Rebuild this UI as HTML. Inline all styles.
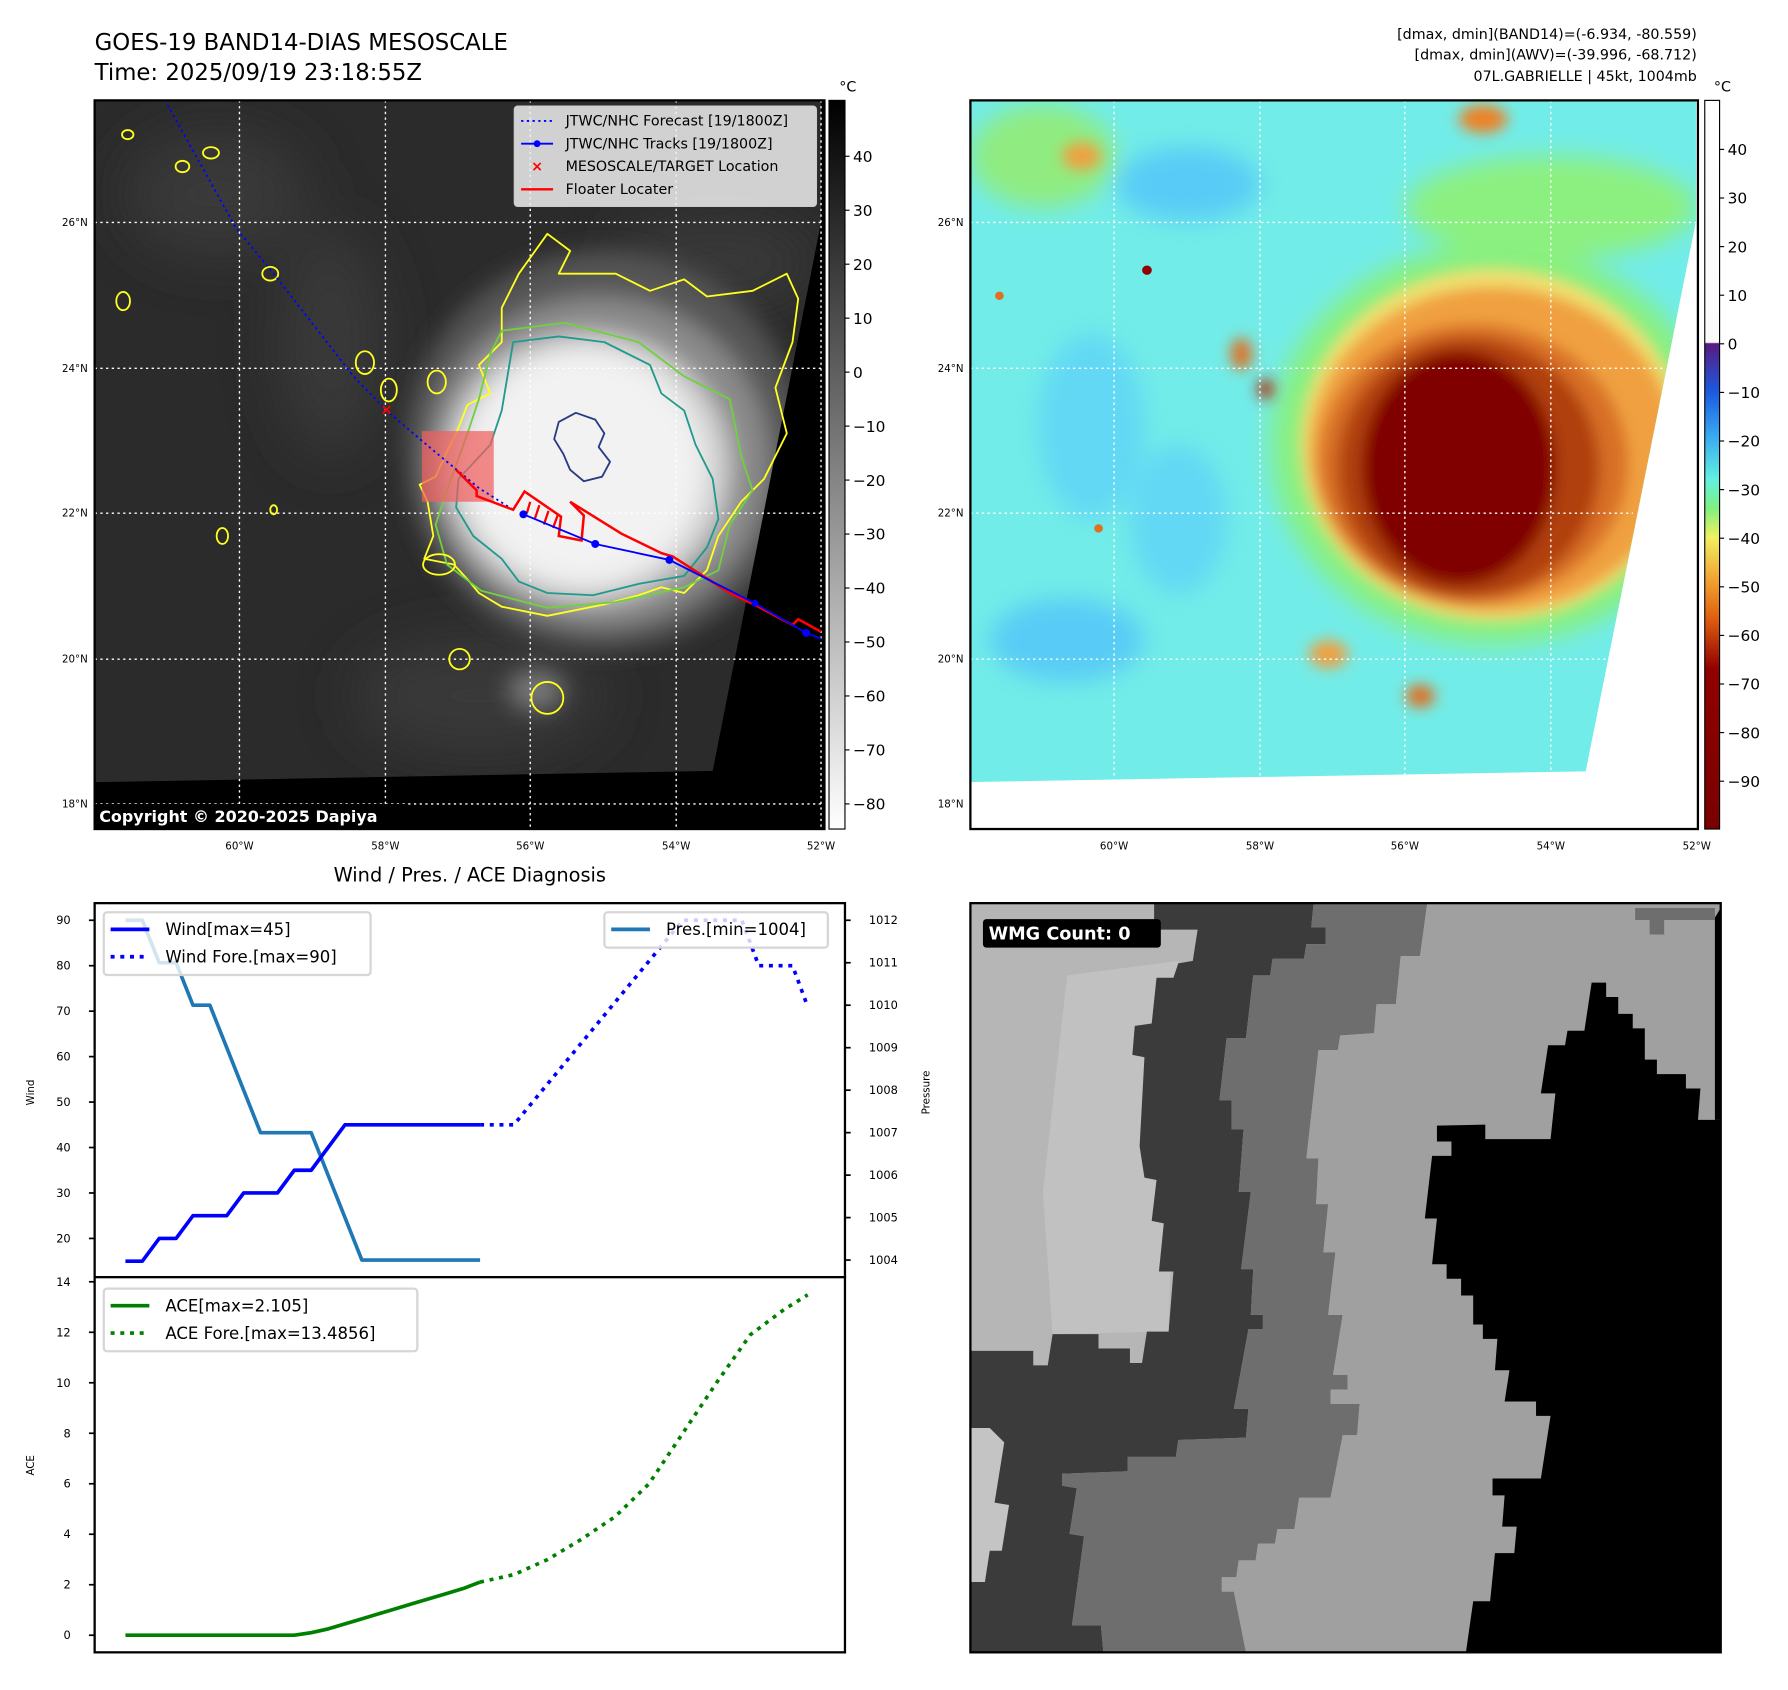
<!DOCTYPE html>
<html><head><meta charset="utf-8"><title>GOES-19 Band14 Mesoscale</title>
<style>
html,body{margin:0;padding:0;background:#fff;}
svg{display:block;font-family:"DejaVu Sans","Liberation Sans",sans-serif;}
</style></head>
<body>
<svg id="fig" width="1788" height="1690" viewBox="0 0 1568 1482" xmlns="http://www.w3.org/2000/svg">
<defs>
  <linearGradient id="cb1" x1="0" y1="0" x2="0" y2="1">
    <stop offset="0" stop-color="#000"/><stop offset="1" stop-color="#fff"/>
  </linearGradient>
  <linearGradient id="cb2" x1="0" y1="0" x2="0" y2="1">
    <stop offset="0" stop-color="#ffffff"/><stop offset="0.332" stop-color="#fafafa"/>
    <stop offset="0.334" stop-color="#5a1a80"/><stop offset="0.40" stop-color="#1a5ae0"/>
    <stop offset="0.46" stop-color="#3aa8f0"/><stop offset="0.52" stop-color="#60f0e0"/>
    <stop offset="0.56" stop-color="#80f080"/><stop offset="0.60" stop-color="#f0f060"/>
    <stop offset="0.66" stop-color="#f0a030"/><stop offset="0.71" stop-color="#e06010"/>
    <stop offset="0.78" stop-color="#900000"/><stop offset="1" stop-color="#7a0000"/>
  </linearGradient>
  <filter id="blur6"><feGaussianBlur stdDeviation="6"/></filter>
  <filter id="blur10"><feGaussianBlur stdDeviation="10"/></filter>
  <filter id="blur15"><feGaussianBlur stdDeviation="15"/></filter>
  <filter id="blur25"><feGaussianBlur stdDeviation="25"/></filter>
  <clipPath id="clip1"><polygon points="83,88 720,88 720,195 625,676 83,686"/></clipPath>
  <clipPath id="clip2"><polygon points="0,0 1500,0 1500,260 1272,1442 0,1465"/></clipPath>
</defs>

<text x="83" y="44" font-size="20">GOES-19 BAND14-DIAS MESOSCALE</text>
<text x="83" y="70" font-size="20">Time: 2025/09/19 23:18:55Z</text>
<g font-size="12.5" text-anchor="end">
  <text x="1488" y="34">[dmax, dmin](BAND14)=(-6.934, -80.559)</text>
  <text x="1488" y="52">[dmax, dmin](AWV)=(-39.996, -68.712)</text>
  <text x="1488" y="71">07L.GABRIELLE | 45kt, 1004mb</text>
</g>

<!-- ============ MAP 1 ============ -->
<g>
  <rect x="83" y="88" width="640" height="639" fill="#000"/>
  <g clip-path="url(#clip1)">
    <rect x="83" y="88" width="640" height="639" fill="#2b2b2b"/>
    <g filter="url(#blur25)" fill="#3e3e3e" opacity="0.8">
      <ellipse cx="190" cy="170" rx="80" ry="55"/>
      <ellipse cx="290" cy="300" rx="45" ry="100"/>
      <ellipse cx="420" cy="610" rx="110" ry="50"/>
      <ellipse cx="630" cy="230" rx="90" ry="40"/>
    </g>
    <g filter="url(#blur10)">
      <ellipse cx="530" cy="395" rx="175" ry="175" fill="#555"/>
      <ellipse cx="525" cy="405" rx="150" ry="145" fill="#8a8a8a"/>
      <ellipse cx="515" cy="410" rx="125" ry="118" fill="#d4d4d4"/>
      <ellipse cx="512" cy="410" rx="105" ry="102" fill="#f2f2f2"/>
      <ellipse cx="470" cy="605" rx="25" ry="18" fill="#777"/>
    </g>
  </g>
  <g stroke="#fff" stroke-width="1.2" stroke-dasharray="2 3" fill="none">
    <line x1="210" y1="88" x2="210" y2="727"/><line x1="338" y1="88" x2="338" y2="727"/>
    <line x1="465" y1="88" x2="465" y2="727"/><line x1="593" y1="88" x2="593" y2="727"/>
    <line x1="720" y1="88" x2="720" y2="727"/>
    <line x1="83" y1="195" x2="723" y2="195"/><line x1="83" y1="323" x2="723" y2="323"/>
    <line x1="83" y1="450" x2="723" y2="450"/><line x1="83" y1="578" x2="723" y2="578"/>
    <line x1="83" y1="705" x2="723" y2="705"/>
  </g>
  <g fill="none" stroke-width="1.6" stroke-linejoin="round">
    <path stroke="#ffff20" d="M440,270 L455,240 L480,205 L500,220 L490,240 L540,240 L570,255 L600,245 L620,260 L660,255 L690,240 L700,262 L695,300 L680,340 L690,380 L670,420 L650,440 L630,470 L620,500 L600,520 L580,515 L560,522 L530,530 L480,540 L440,532 L420,520 L410,508 L398,495 L372,490 L380,470 L375,440 L368,425 L382,418 L390,400 L400,380 L410,355 L430,345 L420,320 L440,300 Z"/>
    <path stroke="#70d040" d="M440,290 L495,283 L560,300 L600,330 L640,350 L650,400 L660,430 L640,460 L630,500 L600,515 L540,528 L480,533 L422,518 L392,495 L382,460 L392,430 L410,380 L420,350 L430,310 Z"/>
    <path stroke="#209a8c" d="M450,300 L490,295 L530,300 L570,320 L580,345 L600,360 L610,390 L625,420 L630,455 L620,480 L600,505 L560,512 L520,522 L480,520 L455,510 L440,490 L415,470 L400,445 L402,420 L430,390 L440,360 L445,330 Z"/>
    <path stroke="#2a3a80" d="M490,370 L505,362 L522,368 L530,380 L525,392 L535,405 L528,418 L512,422 L500,412 L494,398 L486,385 Z"/>
    <g stroke="#ffff20">
      <ellipse cx="112" cy="118" rx="5" ry="4"/><ellipse cx="160" cy="146" rx="6" ry="5"/>
      <ellipse cx="185" cy="134" rx="7" ry="5"/><ellipse cx="237" cy="240" rx="7" ry="6"/>
      <ellipse cx="108" cy="264" rx="6" ry="8"/><ellipse cx="320" cy="318" rx="8" ry="10"/>
      <ellipse cx="341" cy="342" rx="7" ry="10"/><ellipse cx="383" cy="335" rx="8" ry="10"/>
      <ellipse cx="195" cy="470" rx="5" ry="7"/><ellipse cx="240" cy="447" rx="3" ry="4"/>
      <ellipse cx="403" cy="578" rx="9" ry="9"/><ellipse cx="480" cy="612" rx="14" ry="14"/>
      <ellipse cx="385" cy="495" rx="14" ry="9"/>
    </g>
  </g>
  <rect x="370" y="378" width="63" height="62" fill="#f06060" opacity="0.72"/>
  <polyline points="147,92 207,200 240,240 310,330 339,360 380,395 420,428 450,447" fill="none" stroke="#0000ff" stroke-width="1.6" stroke-dasharray="2 3"/>
  <polyline points="400,412 418,430 418,435 450,447 460,431 492,453 490,470 510,474 512,452 500,440 545,468 580,485 590,488 640,520 665,532 695,548 700,543 720,554" fill="none" stroke="#ff0000" stroke-width="2.2"/>
  <g stroke="#ff0000" stroke-width="2"><line x1="465" y1="440" x2="462" y2="450"/><line x1="473" y1="443" x2="469" y2="455"/><line x1="481" y1="448" x2="477" y2="460"/><line x1="489" y1="452" x2="485" y2="463"/></g>
  <polyline points="459,451 522,477 587,491 662,529 707,555 720,560" fill="none" stroke="#0000ff" stroke-width="1.6"/>
  <g fill="#0000ff"><circle cx="459" cy="451" r="3.5"/><circle cx="522" cy="477" r="3.5"/><circle cx="587" cy="491" r="3.5"/><circle cx="662" cy="529" r="3"/><circle cx="707" cy="555" r="3.5"/></g>
  <text x="339" y="360" font-size="13" fill="#ff0000" text-anchor="middle" dominant-baseline="middle" font-weight="bold">×</text>
  <g font-size="12.5">
    <rect x="451" y="93" width="265" height="88" rx="3" fill="#eee" fill-opacity="0.85" stroke="#ccc"/>
    <line x1="457" y1="106" x2="485" y2="106" stroke="#0000ff" stroke-width="1.6" stroke-dasharray="2 3"/>
    <text x="496" y="110">JTWC/NHC Forecast [19/1800Z]</text>
    <line x1="457" y1="126" x2="485" y2="126" stroke="#0000ff" stroke-width="1.6"/><circle cx="471" cy="126" r="3" fill="#0000ff"/>
    <text x="496" y="130">JTWC/NHC Tracks [19/1800Z]</text>
    <text x="471" y="150" fill="#ff0000" text-anchor="middle" font-weight="bold">×</text>
    <text x="496" y="150">MESOSCALE/TARGET Location</text>
    <line x1="457" y1="166" x2="485" y2="166" stroke="#ff0000" stroke-width="2"/>
    <text x="496" y="170">Floater Locater</text>
  </g>
  <rect x="83" y="705" width="272" height="22" fill="#000"/>
  <text x="87" y="721" font-size="14" font-weight="bold" fill="#fff">Copyright © 2020-2025 Dapiya</text>
  <rect x="83" y="88" width="640" height="639" fill="none" stroke="#000" stroke-width="2"/>
  <g font-size="9" text-anchor="end">
    <text x="77" y="198">26°N</text><text x="77" y="326">24°N</text><text x="77" y="453">22°N</text><text x="77" y="581">20°N</text><text x="77" y="708">18°N</text>
  </g>
  <g font-size="9" text-anchor="middle">
    <text x="210" y="745">60°W</text><text x="338" y="745">58°W</text><text x="465" y="745">56°W</text><text x="593" y="745">54°W</text><text x="720" y="745">52°W</text>
  </g>
  <rect x="727" y="88" width="14" height="639" fill="url(#cb1)" stroke="#000" stroke-width="1"/>
  <text x="736" y="80" font-size="12.5">°C</text>
  <g id="cb1ticks" font-size="13.5"></g>
</g>

<!-- ============ MAP 2 ============ -->
<g>
  <rect x="851" y="88" width="638" height="639" fill="#fff"/>
  <svg x="851" y="88" width="638" height="639" viewBox="0 0 1504 1566" preserveAspectRatio="none">
    <g clip-path="url(#clip2)">
      <rect x="0" y="0" width="1504" height="1566" fill="#72ece8"/>
      <g filter="url(#blur25)">
        <ellipse cx="450" cy="180" rx="150" ry="80" fill="#58ccf6"/>
        <ellipse cx="250" cy="700" rx="110" ry="200" fill="#62d8f4"/>
        <ellipse cx="200" cy="1160" rx="160" ry="90" fill="#58ccf6"/>
        <ellipse cx="430" cy="900" rx="100" ry="160" fill="#62d8f4"/>
        <ellipse cx="150" cy="120" rx="150" ry="110" fill="#90ec80"/>
        <ellipse cx="1200" cy="230" rx="300" ry="110" fill="#8cf080"/>
        <ellipse cx="1080" cy="740" rx="460" ry="430" fill="#88f080"/>
      </g>
      <g filter="url(#blur15)">
        <ellipse cx="1080" cy="740" rx="400" ry="380" fill="#f0e070"/>
        <ellipse cx="1080" cy="750" rx="380" ry="350" fill="#f0a040"/>
        <ellipse cx="1040" cy="780" rx="320" ry="300" fill="#d87028"/>
        <ellipse cx="1030" cy="790" rx="270" ry="280" fill="#b04010"/>
        <ellipse cx="1010" cy="790" rx="200" ry="250" fill="#800000"/>
        <ellipse cx="1060" cy="40" rx="50" ry="30" fill="#f08020"/>
        <ellipse cx="230" cy="120" rx="40" ry="30" fill="#f0a040"/>
        <ellipse cx="740" cy="1190" rx="40" ry="30" fill="#f0a040"/>
        <ellipse cx="930" cy="1280" rx="30" ry="25" fill="#e07020"/>
        <ellipse cx="560" cy="545" rx="22" ry="35" fill="#e07020"/>
        <ellipse cx="610" cy="620" rx="16" ry="22" fill="#b02000"/>
      </g>
      <circle cx="365" cy="365" r="10" fill="#900000"/>
      <circle cx="60" cy="420" r="9" fill="#e07020"/>
      <circle cx="265" cy="920" r="9" fill="#e07020"/>
    </g>
  </svg>
  <g stroke="#fff" stroke-width="1.2" stroke-dasharray="2 3" fill="none">
    <line x1="977" y1="88" x2="977" y2="682"/><line x1="1105" y1="88" x2="1105" y2="682"/>
    <line x1="1232" y1="88" x2="1232" y2="681"/><line x1="1360" y1="88" x2="1360" y2="680"/>
    <line x1="851" y1="195" x2="1488" y2="195"/><line x1="851" y1="323" x2="1458" y2="323"/>
    <line x1="851" y1="450" x2="1432" y2="450"/><line x1="851" y1="578" x2="1408" y2="578"/>
  </g>
  <rect x="851" y="88" width="638" height="639" fill="none" stroke="#000" stroke-width="2"/>
  <g font-size="9" text-anchor="end">
    <text x="845" y="198">26°N</text><text x="845" y="326">24°N</text><text x="845" y="453">22°N</text><text x="845" y="581">20°N</text><text x="845" y="708">18°N</text>
  </g>
  <g font-size="9" text-anchor="middle">
    <text x="977" y="745">60°W</text><text x="1105" y="745">58°W</text><text x="1232" y="745">56°W</text><text x="1360" y="745">54°W</text><text x="1488" y="745">52°W</text>
  </g>
  <rect x="1495" y="88" width="13" height="639" fill="url(#cb2)" stroke="#000" stroke-width="1"/>
  <text x="1503" y="80" font-size="12.5">°C</text>
  <g id="cb2ticks" font-size="13.5"></g>
</g>

<text x="412" y="773" font-size="17" text-anchor="middle">Wind / Pres. / ACE Diagnosis</text>
<g id="chart"></g>

<!-- ============ WMG PANEL ============ -->
<g>
  <svg x="851" y="792" width="658" height="657" viewBox="0 0 1552 1556" preserveAspectRatio="none">
    <rect width="1552" height="1556" fill="#b6b6b6"/>
    <polygon fill="#c4c4c4" opacity="0.8" points="200,150 430,120 410,890 170,895 150,600"/>
    <polygon fill="#3b3b3b" points="380,0 710,0 705,50 735,50 735,85 695,85 690,115 625,115 620,150 585,150 570,280 530,280 515,410 540,410 540,470 565,470 555,600 580,600 560,760 585,760 580,855 605,855 605,885 575,885 545,1050 575,1050 570,1110 430,1115 425,1150 325,1150 325,1180 190,1185 190,1210 220,1215 205,1310 235,1315 210,1500 270,1500 275,1556 0,1556 0,930 130,930 130,960 160,960 170,895 265,895 265,925 330,925 330,955 355,955 365,890 410,890 420,765 390,765 400,665 375,660 385,575 360,570 350,505 360,320 335,315 340,255 375,250 385,155 420,155 430,125 460,120 470,55 380,55"/>
    <polygon fill="#c4c4c4" points="0,1090 40,1090 70,1120 50,1245 80,1250 65,1345 40,1345 30,1410 0,1410"/>
    <polygon fill="#6e6e6e" points="710,0 945,0 930,110 890,110 880,210 840,210 835,270 765,275 760,305 720,305 695,530 720,530 715,625 740,625 730,725 755,725 740,855 770,855 750,980 780,980 780,1010 745,1010 745,1040 805,1040 800,1105 770,1105 745,1235 680,1235 670,1300 635,1300 630,1330 595,1330 590,1365 555,1365 550,1400 520,1400 520,1430 545,1430 570,1556 275,1556 270,1500 210,1500 235,1315 205,1310 220,1215 190,1210 190,1185 325,1180 325,1150 425,1150 430,1115 570,1110 575,1050 545,1050 575,885 605,885 605,855 580,855 585,760 560,760 580,600 555,600 565,470 540,470 540,410 515,410 530,280 570,280 585,150 620,150 625,115 690,115 695,85 735,85 735,50 705,50"/>
    <polygon fill="#a0a0a0" points="945,0 1552,0 1552,1556 570,1556 545,1430 520,1430 520,1400 550,1400 555,1365 590,1365 595,1330 630,1330 635,1300 670,1300 680,1235 745,1235 770,1105 800,1105 805,1040 745,1040 745,1010 780,1010 780,980 750,980 770,855 740,855 755,725 730,725 740,625 715,625 720,530 695,530 720,305 760,305 765,275 835,270 840,210 880,210 890,110 930,110"/>
    <polygon fill="#6e6e6e" points="1375,10 1540,10 1540,35 1435,35 1435,65 1405,65 1405,35 1375,35"/>
    <polygon fill="#000" points="1285,165 1315,165 1315,195 1340,195 1340,230 1370,230 1370,260 1395,260 1395,325 1420,325 1420,355 1480,355 1480,385 1510,385 1505,450 1552,450 1552,1556 1025,1556 1040,1450 1075,1450 1085,1350 1125,1350 1130,1295 1100,1295 1105,1230 1080,1230 1080,1195 1180,1195 1200,1065 1170,1065 1170,1035 1105,1035 1115,970 1085,970 1090,905 1060,905 1060,875 1040,875 1040,815 1015,815 1015,780 985,780 985,750 955,750 965,655 940,655 955,525 995,525 995,495 965,495 965,462 1065,460 1065,490 1200,490 1210,395 1180,395 1195,295 1230,295 1235,265 1270,265"/>
    <polygon fill="#000" points="1540,30 1552,10 1552,450 1540,450"/>
  </svg>
  <rect x="851" y="792" width="658" height="657" fill="none" stroke="#000" stroke-width="2"/>
  <rect x="862" y="806" width="156" height="25" rx="3" fill="#000"/>
  <text x="867" y="824" font-size="15.5" font-weight="bold" fill="#fff">WMG Count: 0</text>
</g>

<script>
const obsIndex = [0,1,2,3,4,5,6,7,8,9,10,11,12,13,14,15,16,17,18,19,20,21];
const windObs = [15,15,20,20,25,25,25,30,30,30,35,35,40,45,45,45,45,45,45,45,45,45];
const presObs = [1012,1012,1011,1011,1010,1010,1009,1008,1007,1007,1007,1007,1006,1005,1004,1004,1004,1004,1004,1004,1004,1004];
const aceObs = [0,0,0,0,0,0,0,0,0,0,0,0.1,0.25,0.45,0.65,0.85,1.05,1.25,1.45,1.65,1.85,2.105];
const windFcIndex = [21,23,33,36.5,37.5,39.5,40.4];
const windFc = [45,45,90,90,80,80,71];
const aceFcIndex = [21,23,25,27,29,31,33,35,37,39,40.4];
const aceFc = [2.105,2.4,3.0,3.8,4.7,6.0,8.0,10.0,11.9,12.9,13.4856];
const windTicks = [20,30,40,50,60,70,80,90];
const presTicks = [1004,1005,1006,1007,1008,1009,1010,1011,1012];
const aceTicks = [0,2,4,6,8,10,12,14];
const cb1Ticks = [40,30,20,10,0,-10,-20,-30,-40,-50,-60,-70,-80];
const cb2Ticks = [40,30,20,10,0,-10,-20,-30,-40,-50,-60,-70,-80,-90];

const NS = 'http://www.w3.org/2000/svg';
function mk(tag, attrs, parent){ const e=document.createElementNS(NS,tag); for(const k in attrs) e.setAttribute(k,attrs[k]); parent.appendChild(e); return e; }

const L=83, R=741, T=792, M=1120, B=1449;
const xIdx = i => 110 + i*14.81;
const yWind = w => 807 + (90-w)*3.986;
const yPres = p => 807 + (1012-p)*37.25;
const yAce = a => 1434 - a*22.14;
const cbY1 = v => 137 + (40-v)*4.733;
const cbY2 = v => 131 + (40-v)*4.262;

const chart = document.getElementById('chart');
function pts(xs, ys, fy){ return xs.map((x,k)=>xIdx(x)+','+fy(ys[k])).join(' '); }

let f1 = mk('rect',{x:L,y:T,width:R-L,height:M-T,fill:'#fff',stroke:'#000','stroke-width':2},chart);


let f2 = mk('rect',{x:L,y:M,width:R-L,height:B-M,fill:'#fff',stroke:'#000','stroke-width':2},chart);



windTicks.forEach(v=>{
  const y=yWind(v);
  mk('line',{x1:L-5,y1:y,x2:L,y2:y,stroke:'#000','stroke-width':1.5},chart);
  const t=mk('text',{x:L-21,y:y+3.5,'font-size':10,'text-anchor':'end'},chart); t.textContent=v;
  
  
});
presTicks.forEach(v=>{
  const y=yPres(v);
  mk('line',{x1:R,y1:y,x2:R+5,y2:y,stroke:'#000','stroke-width':1.5},chart);
  const t=mk('text',{x:R+21,y:y+3.5,'font-size':10},chart); t.textContent=v;
  
  
});
aceTicks.forEach(v=>{
  const y=yAce(v);
  mk('line',{x1:L-5,y1:y,x2:L,y2:y,stroke:'#000','stroke-width':1.5},chart);
  const t=mk('text',{x:L-21,y:y+3.5,'font-size':10,'text-anchor':'end'},chart); t.textContent=v;
  
  
});
let yl1=mk('text',{x:0,y:0,'font-size':9,'text-anchor':'middle',transform:'translate(30,958) rotate(-90)'},chart); yl1.textContent='Wind';


let yl2=mk('text',{x:0,y:0,'font-size':9,'text-anchor':'middle',transform:'translate(815,958) rotate(-90)'},chart); yl2.textContent='Pressure';


let yl3=mk('text',{x:0,y:0,'font-size':9,'text-anchor':'middle',transform:'translate(30,1285) rotate(-90)'},chart); yl3.textContent='ACE';



let s1=mk('polyline',{points:pts(obsIndex,presObs,yPres),fill:'none',stroke:'#1f77b4','stroke-width':3.2,'stroke-linejoin':'round'},chart);


let s2=mk('polyline',{points:pts(obsIndex,windObs,yWind),fill:'none',stroke:'#0000ff','stroke-width':3.2,'stroke-linejoin':'round'},chart);


let s3=mk('polyline',{points:pts(windFcIndex,windFc,yWind),fill:'none',stroke:'#0000ff','stroke-width':3.2,'stroke-dasharray':'3.5 5'},chart);


let s4=mk('polyline',{points:pts(obsIndex,aceObs,yAce),fill:'none',stroke:'#008000','stroke-width':3.2,'stroke-linejoin':'round'},chart);


let s5=mk('polyline',{points:pts(aceFcIndex,aceFc,yAce),fill:'none',stroke:'#008000','stroke-width':3.2,'stroke-dasharray':'3.5 5'},chart);



function legend(x,y,w,h,items,name){
  const g=mk('g',{},chart);
  
  
  mk('rect',{x:x,y:y,width:w,height:h,rx:3,fill:'#fff','fill-opacity':0.8,stroke:'#d6d6d6','stroke-width':2},g);
  items.forEach((it,k)=>{
    const yy=y+15+k*24;
    mk('line',{x1:x+6,y1:yy,x2:x+40,y2:yy,stroke:it.c,'stroke-width':3.2,'stroke-dasharray':it.d||'none'},g);
    const t=mk('text',{x:x+54,y:yy+5,'font-size':14.5},g); t.textContent=it.t;
  });
}
legend(91,800,234,55,[{c:'#0000ff',t:'Wind[max=45]'},{c:'#0000ff',d:'3.5 5',t:'Wind Fore.[max=90]'}],'wind-legend');
legend(530,800,196,31,[{c:'#1f77b4',t:'Pres.[min=1004]'}],'pressure-legend');
legend(91,1130,275,55,[{c:'#008000',t:'ACE[max=2.105]'},{c:'#008000',d:'3.5 5',t:'ACE Fore.[max=13.4856]'}],'ace-legend');

const g1=document.getElementById('cb1ticks');
cb1Ticks.forEach(v=>{
  const y=cbY1(v);
  mk('line',{x1:741,y1:y,x2:745,y2:y,stroke:'#000','stroke-width':1},g1);
  const t=mk('text',{x:748,y:y+5},g1); t.textContent=(v<0?'\u2212'+(-v):v);
  
  
});
const g2=document.getElementById('cb2ticks');
cb2Ticks.forEach(v=>{
  const y=cbY2(v);
  mk('line',{x1:1508,y1:y,x2:1512,y2:y,stroke:'#000','stroke-width':1},g2);
  const t=mk('text',{x:1515,y:y+5},g2); t.textContent=(v<0?'\u2212'+(-v):v);
  
  
});
</script>
</svg>
</body></html>
